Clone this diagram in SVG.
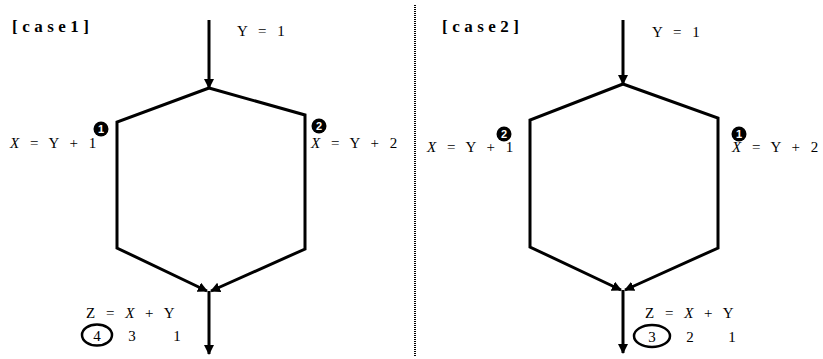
<svg xmlns="http://www.w3.org/2000/svg" width="823" height="359" viewBox="0 0 823 359">
<defs>
<marker id="ah" viewBox="0 0 10 10" refX="9" refY="5" markerWidth="10" markerHeight="10" markerUnits="userSpaceOnUse" orient="auto">
<path d="M0,0 L10,5 L0,10 z" fill="#000"/>
</marker>
<style>
.ln{fill:none;stroke:#000;stroke-width:3;stroke-linejoin:miter}
.eq{font-family:"Liberation Serif",serif;font-size:15px;fill:#000;word-spacing:7px}
.i{font-style:italic}
.t{font-family:"Liberation Serif",serif;font-size:15px;fill:#000;text-anchor:middle}
.hd{font-family:"Liberation Serif",serif;font-size:17px;font-weight:bold;letter-spacing:4.5px;fill:#000}
.bn{font-family:"Liberation Sans",sans-serif;font-size:11px;font-weight:bold;fill:#fff;text-anchor:middle}
.sep{stroke:#000;stroke-width:2;stroke-dasharray:1 1}
.ring{fill:none;stroke:#000;stroke-width:2.5}
</style>
</defs>
<rect width="823" height="359" fill="#fff"/>
<line class="sep" x1="415" y1="5" x2="415" y2="356"/>
<g id="connectors">
<line class="ln" x1="209" y1="20" x2="209" y2="88" marker-end="url(#ah)"/>
<polyline class="ln" points="209,88 117,122 117,248 207,291" marker-end="url(#ah)"/>
<polyline class="ln" points="209,88 305,115 305,249 211,291" marker-end="url(#ah)"/>
<line class="ln" x1="209" y1="291" x2="209" y2="354" marker-end="url(#ah)"/>
<line class="ln" x1="623" y1="20" x2="623" y2="84" marker-end="url(#ah)"/>
<polyline class="ln" points="623,84 530,120 530,247 621,290" marker-end="url(#ah)"/>
<polyline class="ln" points="623,84 718,118 718,248 625,290" marker-end="url(#ah)"/>
<line class="ln" x1="623" y1="290" x2="623" y2="353" marker-end="url(#ah)"/>
</g>
<g id="case1">
<text class="hd" x="12" y="32">[case1]</text>
<text class="eq" x="237" y="36">Y = 1</text>
<g id="c1-branch1">
<circle cx="101" cy="129" r="7.5"/>
<text class="bn" x="101" y="133">1</text>
<text class="eq" x="10" y="148"><tspan class="i">X</tspan> = Y + 1</text>
</g>
<g id="c1-branch2">
<circle cx="319" cy="126" r="7.5"/>
<text class="bn" x="319" y="130">2</text>
<text class="eq" x="311" y="148"><tspan class="i">X</tspan> = Y + 2</text>
</g>
<g id="c1-result">
<text class="eq" x="86" y="318">Z = <tspan class="i">X</tspan> + Y</text>
<ellipse class="ring" cx="97" cy="335" rx="15" ry="10.5"/>
<text class="t" x="97" y="341">4</text>
<text class="t" x="132" y="341">3</text>
<text class="t" x="177" y="341">1</text>
</g>
</g>
<g id="case2">
<text class="hd" x="442" y="32">[case2]</text>
<text class="eq" x="652" y="37">Y = 1</text>
<g id="c2-branch1">
<circle cx="504" cy="134" r="7.5"/>
<text class="bn" x="504" y="138">2</text>
<text class="eq" x="427" y="152"><tspan class="i">X</tspan> = Y + 1</text>
</g>
<g id="c2-branch2">
<circle cx="739" cy="134" r="7.5"/>
<text class="bn" x="739" y="138">1</text>
<text class="eq" x="732" y="152"><tspan class="i">X</tspan> = Y + 2</text>
</g>
<g id="c2-result">
<text class="eq" x="645" y="318">Z = <tspan class="i">X</tspan> + Y</text>
<ellipse class="ring" cx="652" cy="336" rx="18" ry="11"/>
<text class="t" x="652" y="342">3</text>
<text class="t" x="690" y="342">2</text>
<text class="t" x="732" y="342">1</text>
</g>
</g>
</svg>
